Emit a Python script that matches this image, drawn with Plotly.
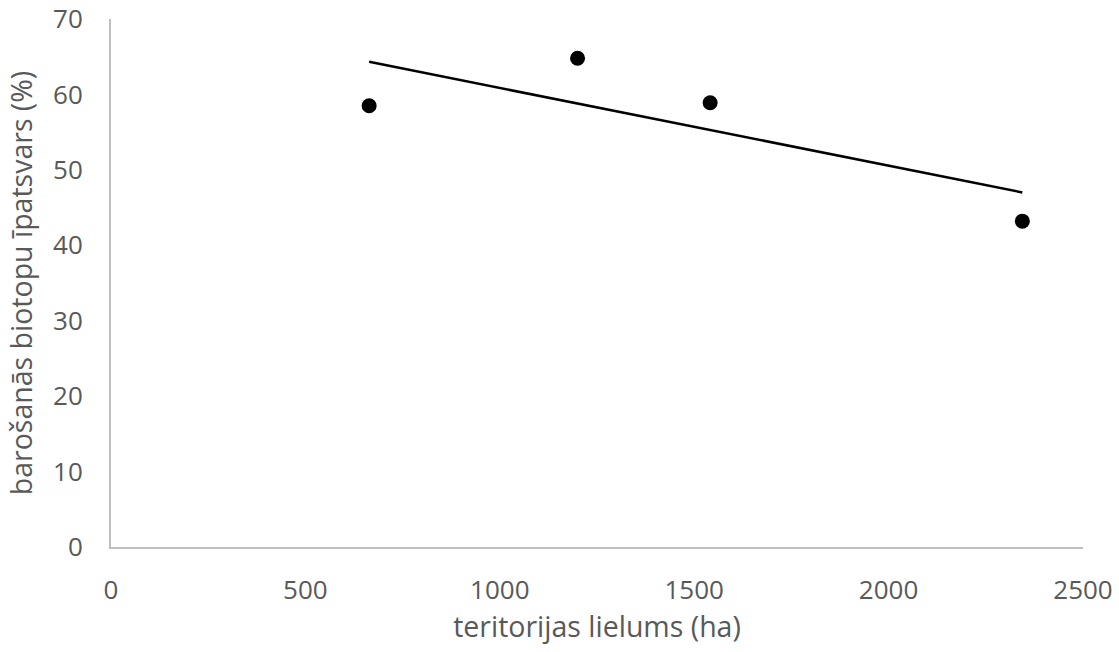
import numpy as np
import plotly.graph_objects as go

# Data
territory_ha = [664, 1200, 1541, 2344]
feeding_share = [58.5, 64.8, 58.9, 43.2]
x_ticks = [0, 500, 1000, 1500, 2000, 2500]
y_ticks = [0, 10, 20, 30, 40, 50, 60, 70]

slope, intercept = np.polyfit(territory_ha, feeding_share, 1)
trend_x = [min(territory_ha), max(territory_ha)]
trend_y = [slope * v + intercept for v in trend_x]

font_fam = "Open Sans, DejaVu Sans, sans-serif"
grey = "#595959"

fig = go.Figure()
fig.add_trace(go.Scatter(
    x=territory_ha, y=feeding_share, mode="markers",
    marker=dict(color="black", size=15), showlegend=False, cliponaxis=False))
fig.add_trace(go.Scatter(
    x=trend_x, y=trend_y, mode="lines",
    line=dict(color="black", width=2.5), showlegend=False))

fig.update_layout(
    width=1119, height=652,
    margin=dict(l=111, r=36, t=19, b=105),
    plot_bgcolor="white", paper_bgcolor="white",
    font=dict(family=font_fam, size=26, color=grey),
    xaxis=dict(range=[0, 2500], tickvals=x_ticks, showgrid=False, zeroline=False,
               showline=True, linecolor="#bfbfbf", linewidth=2, ticks="",
               ticklabelstandoff=19, automargin=False, ticklabeloverflow="allow",
               tickfont=dict(size=26, color=grey),
               title=dict(text="teritorijas lielums (ha)", standoff=8,
                          font=dict(size=28.5, color=grey))),
    yaxis=dict(range=[0, 70], tickvals=y_ticks, showgrid=False, zeroline=False,
               showline=True, linecolor="#bfbfbf", linewidth=2, ticks="",
               ticklabelstandoff=21, automargin=False, ticklabeloverflow="allow",
               tickfont=dict(size=26, color=grey),
               title=dict(text="barošanās biotopu īpatsvars (%)", standoff=12,
                          font=dict(size=28.5, color=grey))),
)

fig.write_html("out.html",
               config={"displayModeBar": False},
               post_script="document.body.style.margin='0';document.body.style.overflow='hidden';")
